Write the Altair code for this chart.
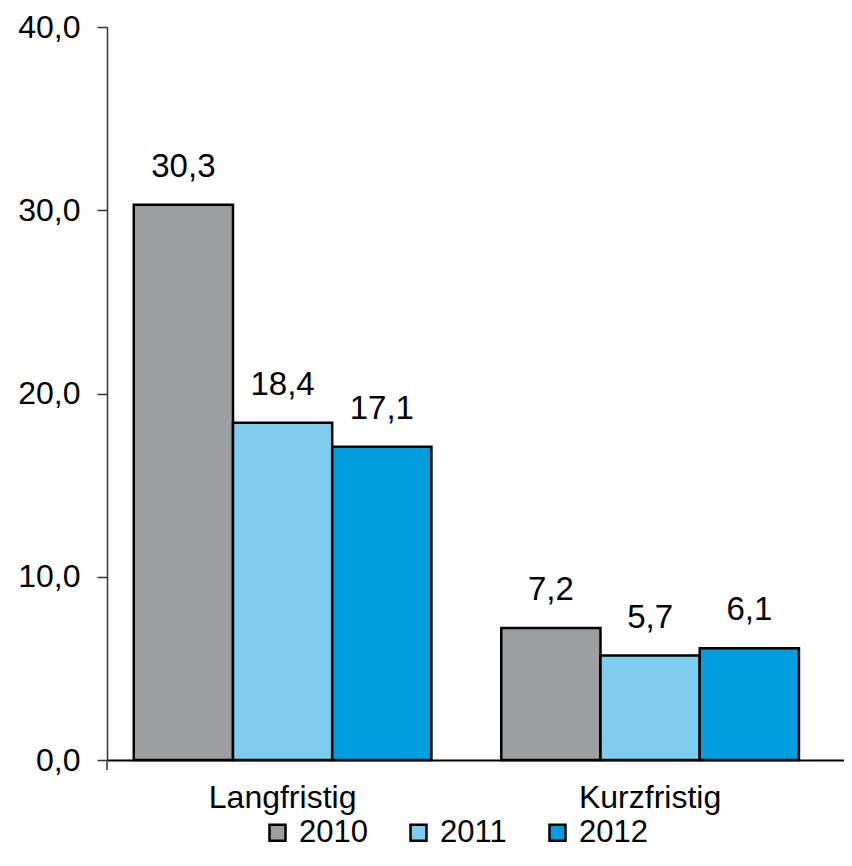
import altair as alt
import pandas as pd

categories = ["Langfristig", "Kurzfristig"]
years = ["2010", "2011", "2012"]
values_2010 = [30.3, 7.2]
values_2011 = [18.4, 5.7]
values_2012 = [17.1, 6.1]
colors = ["#9d9ea0", "#7fcdee", "#009ddf"]
y_ticks = [0, 10, 20, 30, 40]

rows = []
for yr, vals in zip(years, [values_2010, values_2011, values_2012]):
    for c, v in zip(categories, vals):
        rows.append({"category": c, "year": yr, "value": v})
df = pd.DataFrame(rows)

FONT = "Liberation Sans"

x_enc = alt.X(
    "category:N", sort=categories,
    scale=alt.Scale(paddingInner=0.19, paddingOuter=0.0977, align=0.3726),
    axis=alt.Axis(title=None, labelAngle=0, labelFontSize=32, labelFont=FONT,
                  labelColor="black", labelPadding=22, ticks=False,
                  domainColor="black", domainWidth=2),
)
xoff_enc = alt.XOffset("year:N", sort=years,
                       scale=alt.Scale(paddingInner=0, paddingOuter=0))
y_enc = alt.Y(
    "value:Q", scale=alt.Scale(domain=[0, 40], nice=False),
    axis=alt.Axis(values=y_ticks, title=None, grid=False,
                  labelExpr="replace(format(datum.value, '.1f'), '.', ',')",
                  tickSize=10, tickColor="#333", tickWidth=1.5,
                  domainColor="#333", domainWidth=1.5,
                  labelFontSize=32, labelFont=FONT, labelColor="black",
                  labelPadding=17),
)

bars = alt.Chart(df).mark_bar(stroke="black", strokeWidth=2.5).encode(
    x=x_enc,
    xOffset=xoff_enc,
    y=y_enc,
    color=alt.Color(
        "year:N", sort=years,
        scale=alt.Scale(domain=years, range=colors),
        legend=alt.Legend(title=None, orient="none", legendX=155, legendY=790,
                          direction="horizontal", symbolType="square",
                          symbolSize=256, symbolStrokeColor="black",
                          symbolStrokeWidth=2.5, symbolOpacity=1,
                          labelFontSize=31, labelFont=FONT, labelColor="black",
                          columnPadding=35, labelOffset=6),
    ),
)

labels = alt.Chart(df).transform_calculate(
    label="replace(format(datum.value, '.1f'), '.', ',')"
).mark_text(dy=-28, fontSize=33, font=FONT, baseline="alphabetic",
            color="black").encode(
    x=alt.X("category:N", sort=categories),
    xOffset=alt.XOffset("year:N", sort=years),
    y="value:Q",
    text="label:N",
)

ext = alt.Chart(pd.DataFrame({"a": [0]})).mark_rule(
    color="#333", strokeWidth=1.5
).encode(x=alt.value(0), y=alt.value(733), y2=alt.value(743))

chart = alt.layer(bars, labels, ext).properties(
    width=737, height=733,
    autosize=alt.AutoSizeParams(type="none"),
    padding={"left": 99, "top": 19, "right": 0, "bottom": 95},
).configure_view(stroke=None)

chart.save("out.html", embed_options={"renderer": "svg", "actions": False})
